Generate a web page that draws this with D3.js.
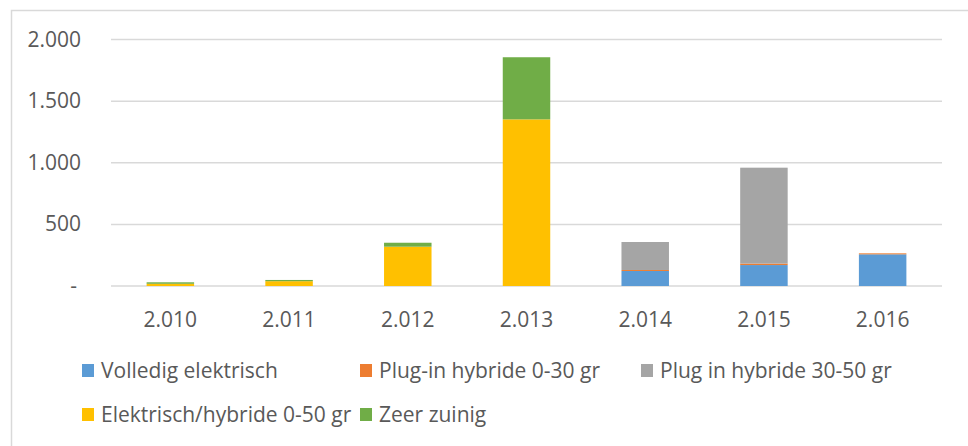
<!DOCTYPE html>
<html>
<head>
<meta charset="utf-8">
<script src="https://cdn.jsdelivr.net/npm/d3@7"></script>
<style>
    body { margin: 0; background: #fff; }
    svg { display: block; }
    text { font-family: "Open Sans", "Liberation Sans", sans-serif; fill: #595959; }
</style>
</head>
<body>
<svg id="chart" width="968" height="446"></svg>
<script>
// --- data ---
const years = ['2.010', '2.011', '2.012', '2.013', '2.014', '2.015', '2.016'];
const seriesNames = ['Volledig elektrisch', 'Plug-in hybride 0-30 gr', 'Plug in hybride 30-50 gr', 'Elektrisch/hybride 0-50 gr', 'Zeer zuinig'];
const volledigElektrisch = [0, 0, 0, 0, 122, 170, 257];
const plugin030 = [0, 0, 0, 0, 8, 12, 8];
const plugin3050 = [0, 0, 0, 0, 227, 778, 0];
const elektrischHybride050 = [18, 39, 319, 1352, 0, 0, 0];
const zeerZuinig = [12, 10, 32, 504, 0, 0, 0];
const yTicks = [0, 500, 1000, 1500, 2000];
const colors = ['#5B9BD5', '#ED7D31', '#A5A5A5', '#FFC000', '#70AD47'];

const allSeries = [volledigElektrisch, plugin030, plugin3050, elektrischHybride050, zeerZuinig];

// table for d3.stack
const rows = years.map((y, i) => {
    const r = { year: y };
    seriesNames.forEach((s, k) => r[s] = allSeries[k][i]);
    return r;
});

const svg = d3.select('#chart');

// chart frame (right and bottom edges fall outside the picture)
svg.append('rect')
    .attr('x', 11.5).attr('y', 10.5)
    .attr('width', 980).attr('height', 460)
    .attr('fill', '#fff')
    .attr('stroke', '#d9d9d9')
    .attr('stroke-width', 1.5);

const x = d3.scaleBand()
    .domain(years)
    .range([111, 942])
    .paddingInner(0.6)
    .paddingOuter(0.3);

const y = d3.scaleLinear()
    .domain([0, 2000])
    .range([286, 39.5]);

// gridlines
svg.append('g')
    .selectAll('line')
    .data(yTicks)
    .join('line')
    .attr('x1', 111).attr('x2', 942)
    .attr('y1', d => y(d)).attr('y2', d => y(d))
    .attr('stroke', '#d9d9d9')
    .attr('stroke-width', 1.5);

// y axis labels
const fmt = d => d === 0 ? '-' : d3.format(',')(d).replace(/,/g, '.');
svg.append('g')
    .selectAll('text')
    .data(yTicks)
    .join('text')
    .attr('x', d => d === 0 ? 77 : 81)
    .attr('y', d => y(d) + 7)
    .attr('text-anchor', 'end')
    .style('font-size', '21px')
    .text(fmt);

// stacked bars
const stack = d3.stack().keys(seriesNames);
const layers = stack(rows);

svg.append('g')
    .selectAll('g')
    .data(layers)
    .join('g')
    .attr('fill', (d, i) => colors[i])
    .selectAll('rect')
    .data(d => d)
    .join('rect')
    .attr('x', d => x(d.data.year))
    .attr('width', x.bandwidth())
    .attr('y', d => y(d[1]))
    .attr('height', d => y(d[0]) - y(d[1]));

// x axis labels
svg.append('g')
    .selectAll('text')
    .data(years)
    .join('text')
    .attr('x', d => x(d) + x.bandwidth() / 2)
    .attr('y', 327)
    .attr('text-anchor', 'middle')
    .style('font-size', '21px')
    .text(d => d);

// legend
const legendPos = [[82, 370], [360, 370], [641, 370], [82, 414], [360, 414]];
const legend = svg.append('g')
    .selectAll('g')
    .data(seriesNames)
    .join('g')
    .attr('transform', (d, i) => `translate(${legendPos[i][0]},${legendPos[i][1]})`);

legend.append('rect')
    .attr('x', 0).attr('y', -6)
    .attr('width', 12).attr('height', 13)
    .attr('fill', (d, i) => colors[i]);

legend.append('text')
    .attr('x', 19)
    .attr('y', 8)
    .style('font-size', '21px')
    .text(d => d);
</script>
</body>
</html>
